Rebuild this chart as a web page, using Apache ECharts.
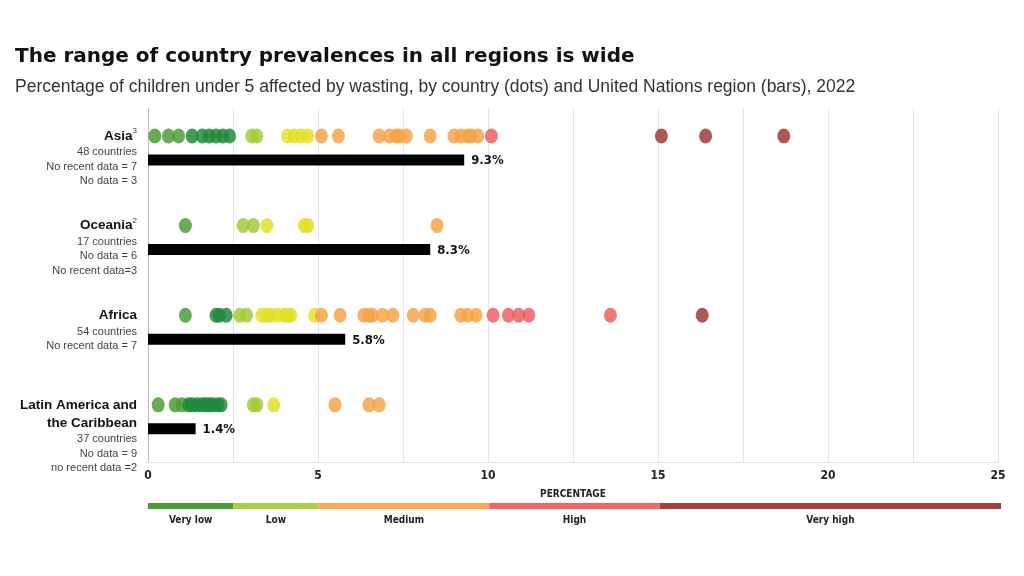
<!DOCTYPE html>
<html>
<head>
<meta charset="utf-8">
<script src="https://cdn.jsdelivr.net/npm/echarts/dist/echarts.min.js"></script>
<style>html,body{margin:0;padding:0;background:#fff;}#c{width:1024px;height:576px;}</style>
</head>
<body>
<div id="c"></div>
<script>
// ---- data ----
var regionNames = ['Asia', 'Oceania', 'Africa', 'Latin America and\nthe Caribbean'];
var regionSup = ['3', '2', '', ''];
var regionNotes = [
  ['48 countries', 'No recent data = 7', 'No data = 3'],
  ['17 countries', 'No data = 6', 'No recent data=3'],
  ['54 countries', 'No recent data = 7'],
  ['37 countries', 'No data = 9', 'no recent data =2']
];
var regionAverages = [9.3, 8.3, 5.8, 1.4];
var asiaValues = [0.2, 0.6, 0.9, 1.3, 1.6, 1.8, 2.0, 2.2, 2.4, 3.05, 3.2, 4.1, 4.3, 4.5, 4.7, 5.1, 5.6, 6.8, 7.1, 7.3, 7.4, 7.6, 8.3, 9.0, 9.2, 9.4, 9.5, 9.7, 10.1, 15.1, 16.4, 18.7];
var oceaniaValues = [1.1, 2.8, 3.1, 3.5, 4.6, 4.7, 8.5];
var africaValues = [1.1, 2.0, 2.1, 2.3, 2.7, 2.9, 3.35, 3.5, 3.6, 3.8, 4.0, 4.1, 4.2, 4.9, 5.1, 5.65, 6.35, 6.5, 6.6, 6.9, 7.2, 7.8, 8.15, 8.3, 9.2, 9.4, 9.65, 10.15, 10.6, 10.9, 11.2, 13.6, 16.3];
var latamValues = [0.3, 0.8, 1.0, 1.2, 1.3, 1.45, 1.6, 1.7, 1.8, 1.9, 2.05, 2.15, 3.1, 3.2, 3.7, 5.5, 6.5, 6.8];
var xTicks = [0, 5, 10, 15, 20, 25];
var bandNames = ['Very low', 'Low', 'Medium', 'High', 'Very high'];
var bandLimits = [2.5, 5, 10, 15, 25];

// ---- styling ----
var bandColors = ['#4b9a3a', '#a8cf45', '#f8aa52', '#ef6464', '#a1403f'];
var condensed = "'Liberation Sans Narrow','DejaVu Sans Condensed','Roboto Condensed',sans-serif";
function dotColor(v) {
  if (v < 1.15) return '#4f9c3a';
  if (v < 2.5) return '#22893c';
  if (v < 3.3) return '#a3cb3a';
  if (v < 5) return '#e2e02a';
  if (v < 10) return '#f6a44a';
  if (v < 15) return '#ee6060';
  return '#a03c3c';
}

var allRows = [asiaValues, oceaniaValues, africaValues, latamValues];
var dotData = [];
allRows.forEach(function (arr, i) { arr.forEach(function (v) { dotData.push([v, i]); }); });
var barData = regionAverages.map(function (v, i) { return [v, i]; });
var labelData = regionNames.map(function (n, i) { return [0, i]; });

var bandSeries = bandLimits.map(function (lim, i) {
  var prev = i === 0 ? 0 : bandLimits[i - 1];
  return {
    type: 'bar', xAxisIndex: 1, yAxisIndex: 1, stack: 'band', barWidth: 6,
    data: [lim - prev], silent: true,
    itemStyle: { color: bandColors[i] },
    label: { show: true, position: 'bottom', distance: 6, formatter: bandNames[i],
      fontFamily: condensed, fontWeight: 'bold', fontSize: 10, color: '#222' }
  };
});

var chart = echarts.init(document.getElementById('c'));
chart.setOption({
  animation: false,
  title: [
    { text: 'The range of country prevalences in all regions is wide', left: 10, top: 42,
      textStyle: { fontFamily: "'DejaVu Sans', sans-serif", fontWeight: 'bold', fontSize: 20, color: '#111' } },
    { text: 'Percentage of children under 5 affected by wasting, by country (dots) and United Nations region (bars), 2022',
      left: 10, top: 73, textStyle: { fontFamily: "'Liberation Sans', sans-serif", fontWeight: 'normal', fontSize: 17.5, color: '#333' } }
  ],
  grid: [
    { left: 148, right: 26, top: 108, bottom: 114 },
    { left: 148, right: 23, top: 503, height: 6 }
  ],
  xAxis: [
    { type: 'value', min: 0, max: 25, interval: 2.5, gridIndex: 0,
      name: 'PERCENTAGE', nameLocation: 'middle', nameGap: 27,
      nameTextStyle: { fontFamily: condensed, fontWeight: 'bold', fontSize: 10, color: '#222' },
      axisLine: { show: true, onZero: false, lineStyle: { color: '#e2e2e2' } }, axisTick: { show: false },
      axisLabel: { margin: 8, fontFamily: condensed, fontWeight: 'bold', fontSize: 12, color: '#222',
        formatter: function (v) { return xTicks.indexOf(v) >= 0 ? String(v) : ''; } },
      splitLine: { show: true, lineStyle: { color: '#e6e6e6', width: 1 } } },
    { type: 'value', min: 0, max: 25, gridIndex: 1, show: false }
  ],
  yAxis: [
    { type: 'value', inverse: true, min: -0.58, max: 3.37, gridIndex: 0,
      axisLine: { show: true, onZero: false, lineStyle: { color: '#b8b8b8' } },
      axisTick: { show: false }, axisLabel: { show: false }, splitLine: { show: false } },
    { type: 'category', data: ['band'], gridIndex: 1, show: false }
  ],
  series: [
    { type: 'custom', name: 'bars', clip: false, data: barData, z: 3,
      renderItem: function (params, api) {
        var y = api.value(1), v = api.value(0);
        var p0 = api.coord([0, y]), p1 = api.coord([v, y]);
        return { type: 'group', children: [
          { type: 'rect', shape: { x: p0[0], y: p0[1] - 5.5, width: p1[0] - p0[0], height: 11 }, style: { fill: '#000' } },
          { type: 'text', x: p1[0] + 7, y: p0[1] + 1,
            style: { text: v.toFixed(1) + '%', fill: '#111', fontFamily: condensed, fontWeight: 'bold', fontSize: 13,
              align: 'left', verticalAlign: 'middle' } }
        ] };
      } },
    { type: 'scatter', name: 'countries', data: dotData, symbol: 'circle', symbolSize: [13, 15],
      symbolOffset: [0, -24], z: 4,
      itemStyle: { opacity: 0.85, color: function (p) { return dotColor(p.value[0]); } } },
    { type: 'custom', name: 'labels', clip: false, data: labelData, silent: true,
      renderItem: function (params, api) {
        var i = params.dataIndex;
        var p = api.coord([0, api.value(1)]);
        var nameParts = regionNames[i].split('\n');
        var txt = nameParts.map(function (s, k) {
          return '{n|' + s + '}' + (k === nameParts.length - 1 && regionSup[i] ? '{s|' + regionSup[i] + '}' : '');
        }).join('\n');
        txt += '\n' + regionNotes[i].map(function (s) { return '{t|' + s + '}'; }).join('\n');
        return { type: 'text', x: p[0] - 11, y: p[1] - 33,
          style: { text: txt, align: 'right', verticalAlign: 'top',
            rich: {
              n: { fontFamily: "'Liberation Sans', sans-serif", fontWeight: 'bold', fontSize: 13.5, lineHeight: 18, fill: '#111', color: '#111' },
              s: { fontFamily: "'Liberation Sans', sans-serif", fontSize: 8, lineHeight: 18, verticalAlign: 'top', fill: '#333', color: '#333' },
              t: { fontFamily: "'Liberation Sans', sans-serif", fontSize: 11, lineHeight: 14.5, fill: '#444', color: '#444' }
            } } };
      } }
  ].concat(bandSeries)
});
</script>
</body>
</html>
